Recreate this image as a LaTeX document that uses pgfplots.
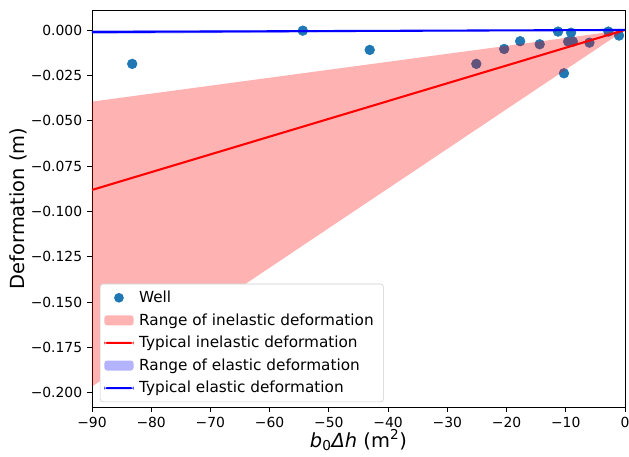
\documentclass[border=0pt]{standalone}
\usepackage{fontspec}
\setmainfont{DejaVu Sans}
\usepackage{pgfplots}
\pgfplotsset{compat=1.18}

\definecolor{wellblue}{HTML}{1F77B4}
\definecolor{pinkpatch}{HTML}{FFB3B3}
\definecolor{lilacpatch}{HTML}{B3B3FF}

\pgfplotsset{
    patchlegend/.style={legend image code/.code={
        \fill[draw=none, fill=#1, fill opacity=1] (0pt,-3.6pt) rectangle (21pt,3.6pt);}},
    linelegend/.style={legend image code/.code={
        \fill[draw=none, fill=#1, fill opacity=1] (0pt,-0.75pt) rectangle (21pt,0.75pt);}},
}

\begin{document}
\begin{tikzpicture}
\begin{axis}[
    scale only axis,
    width=383.8pt,
    height=285.8pt,
    clip mode=individual,
    xmin=-90, xmax=0,
    ymin=-0.2078, ymax=0.0110,
    xtick={-90,-80,...,0},
    xticklabels={−90,−80,−70,−60,−50,−40,−30,−20,−10,0},
    ytick={-0.2,-0.175,-0.15,-0.125,-0.1,-0.075,-0.05,-0.025,0},
    yticklabels={−0.200,−0.175,−0.150,−0.125,−0.100,−0.075,−0.050,−0.025,0.000},
    tick align=outside,
    xtick pos=left, ytick pos=left,
    major tick length=3.5pt,
    tick style={black, line width=0.6pt},
    axis line style={line width=0.6pt},
    tick label style={font=\fontsize{10}{12}\selectfont},
    xlabel={\textit{b}\textsubscript{0}\textit{Δh} (m\textsuperscript{2})},
    ylabel={Deformation (m)},
    label style={font=\fontsize{14}{16}\selectfont},
    xlabel style={yshift=5pt},
    ylabel style={yshift=-4pt},
    legend cell align=left,
    legend style={
        at={(0.015,0.012)}, anchor=south west,
        font=\fontsize{11}{13}\selectfont,
        draw=black!20, rounded corners=2pt, fill=white,
        row sep=2.4pt, inner xsep=3pt, inner ysep=3pt,
        nodes={inner xsep=4pt},
    },
]
\coordinate (sw) at (rel axis cs:0,0);
\coordinate (ne) at (rel axis cs:1,1);

% wells
\addplot[only marks, mark=*, mark size=3.5pt, color=wellblue,
    mark options={draw=wellblue, fill=wellblue},
    legend image code/.code={\fill[draw=none, fill=wellblue, fill opacity=1] (10.5pt,0pt) circle (3.5pt);}]
coordinates {
    (-83.2,-0.0187) (-54.4,-0.0004) (-43.1,-0.0110) (-25.1,-0.0187)
    (-20.4,-0.0105) (-17.7,-0.0062) (-14.4,-0.0079) (-11.3,-0.0009)
    (-9.1,-0.0015) (-9.6,-0.0064) (-8.8,-0.0064) (-10.3,-0.0239)
    (-6.0,-0.0070) (-2.8,-0.0009) (-1.0,-0.0031)
};
\addlegendentry{Well}

% inelastic range
\addplot[fill=red, fill opacity=0.3, draw=none, patchlegend=pinkpatch] coordinates {
    (-90,-0.0395) (0,0) (-90,-0.1966)
} -- cycle;
\addlegendentry{Range of inelastic deformation}

\addplot[red, line width=1.5pt, linelegend=red] coordinates {(-90,-0.0882) (0,0)};
\addlegendentry{Typical inelastic deformation}

% elastic range
\addplot[fill=blue, fill opacity=0.3, draw=none, patchlegend=lilacpatch] coordinates {
    (-90,-0.0003) (0,0) (-90,-0.0022)
} -- cycle;
\addlegendentry{Range of elastic deformation}

\addplot[blue, line width=1.5pt, linelegend=blue] coordinates {(-90,-0.0011) (0,0)};
\addlegendentry{Typical elastic deformation}
\end{axis}
\pgfresetboundingbox
\path ([shift={(-66.2pt,-36pt)}]sw) rectangle ([shift={(2.9pt,7.2pt)}]ne);
\end{tikzpicture}
\end{document}
